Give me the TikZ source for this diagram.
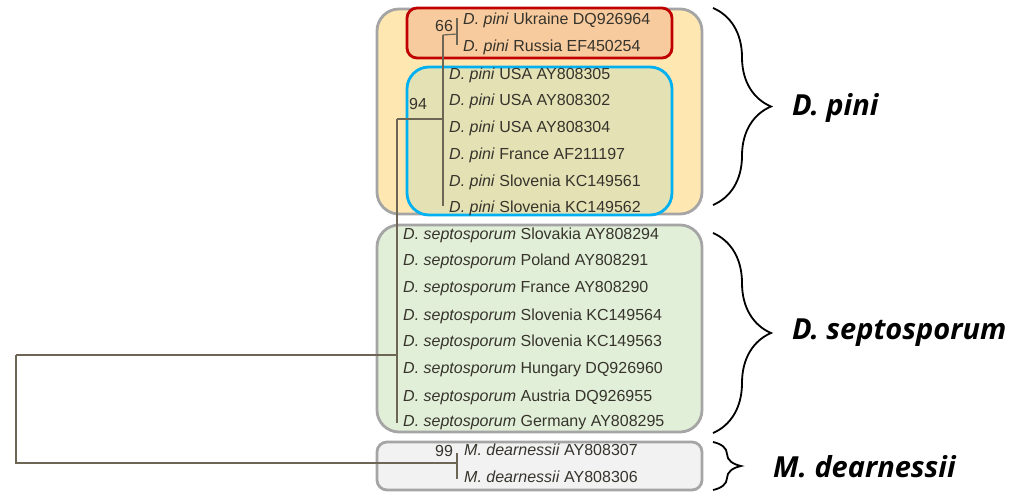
\documentclass[tikz,border=0pt]{standalone}
\usepackage{fontspec}
\setmainfont{Liberation Sans}
\newfontfamily\labfont{Open Sans}
\usetikzlibrary{decorations.pathreplacing}
\definecolor{yel}{HTML}{FFE7B2}
\definecolor{peach}{HTML}{F8CB9E}
\definecolor{olive}{HTML}{E4E2B4}
\definecolor{grn}{HTML}{E2EFD8}
\definecolor{lgr}{HTML}{F2F2F2}
\definecolor{bord}{HTML}{A5A5A5}
\definecolor{redb}{HTML}{C00000}
\definecolor{blueb}{HTML}{00B0F0}
\definecolor{treec}{HTML}{6E6654}
\definecolor{txtc}{HTML}{36342C}
\begin{document}
\begin{tikzpicture}[x=1pt,y=-1pt,
  grpbox/.style={draw=bord,line width=2.8pt,rounded corners=22pt},
  taxon/.style={anchor=west,inner sep=0pt,text=txtc,font=\fontsize{16}{19}\selectfont},
  branch/.style={draw=treec,line width=1.2pt},
  boot/.style={anchor=center,inner sep=0pt,text=txtc,font=\fontsize{16}{19}\selectfont},
  bracestyle/.style={draw=black,line width=1.8pt,decorate},
  cladelab/.style={anchor=west,inner sep=0pt,font=\labfont\bfseries\itshape\fontsize{29}{32}\selectfont}]
\useasboundingbox (0,0) rectangle (1013,491);
% group boxes
\draw[grpbox,fill=yel] (377,9) rectangle (702,214);
\draw[grpbox,fill=grn] (377,225) rectangle (702,432);
\draw[grpbox,fill=lgr,rounded corners=10pt] (377,442) rectangle (702,490);
\draw[draw=blueb,line width=2.8pt,rounded corners=22pt,fill=olive] (407,67) rectangle (672,215);
\draw[draw=redb,line width=2.8pt,rounded corners=10pt,fill=peach] (407,8) rectangle (672,58);
% taxa
\node[taxon] (t1) at (463,20) {\textit{D. pini} Ukraine DQ926964};
\node[taxon] (t2) at (463,47) {\textit{D. pini} Russia EF450254};
\node[taxon] (t3) at (449,75) {\textit{D. pini} USA AY808305};
\node[taxon] (t4) at (449,101) {\textit{D. pini} USA AY808302};
\node[taxon] (t5) at (449,128) {\textit{D. pini} USA AY808304};
\node[taxon] (t6) at (449,155) {\textit{D. pini} France AF211197};
\node[taxon] (t7) at (449,182) {\textit{D. pini} Slovenia KC149561};
\node[taxon] (t8) at (449,208) {\textit{D. pini} Slovenia KC149562};
\node[taxon] (s1) at (403,235) {\textit{D. septosporum} Slovakia AY808294};
\node[taxon] (s2) at (403,261) {\textit{D. septosporum} Poland AY808291};
\node[taxon] (s3) at (403,289) {\textit{D. septosporum} France AY808290};
\node[taxon] (s4) at (403,316) {\textit{D. septosporum} Slovenia KC149564};
\node[taxon] (s5) at (403,342) {\textit{D. septosporum} Slovenia KC149563};
\node[taxon] (s6) at (403,370) {\textit{D. septosporum} Hungary DQ926960};
\node[taxon] (s7) at (403,397) {\textit{D. septosporum} Austria DQ926955};
\node[taxon] (s8) at (403,423) {\textit{D. septosporum} Germany AY808295};
\node[taxon] (m1) at (464,450) {\textit{M. dearnessii} AY808307};
\node[taxon] (m2) at (464,477) {\textit{M. dearnessii} AY808306};
% internal nodes
\coordinate (nroot) at (16,355);
\coordinate (nds) at (397,355);
\coordinate (npini) at (443,119);
\coordinate (n66) at (457,34);
\coordinate (n99) at (457,463);
% tree
\draw[branch] (nroot) -- (nds);
\draw[branch] (nroot) -- (nroot |- n99) -- (n99);
\draw[branch] (npini -| nds) -- (s8.west -| nds);
\draw[branch] (npini -| nds) -- (npini);
\draw[branch] ([yshift=-1pt]n66 -| npini) -- ([yshift=2pt]t8.west -| npini);
\draw[branch] ([yshift=-1pt]n66 -| npini) -- (n66);
\draw[branch] ([yshift=2pt]t1.west -| n66) -- ([yshift=2pt]t2.west -| n66);
\draw[branch] ([yshift=-3pt]m1.west -| n99) -- ([yshift=-2pt]m2.west -| n99);
% bootstrap values
\node[boot] (b66) at (444,26) {66};
\node[boot] (b94) at (418,104) {94};
\node[boot] (b99) at (444,451) {99};
% braces
\coordinate (bp1) at (713,8);
\coordinate (bp2) at (713,205);
\coordinate (bs1) at (713,233);
\coordinate (bs2) at (713,433);
\coordinate (bm1) at (713,442);
\coordinate (bm2) at (713,490);
\draw[bracestyle,decoration={brace,amplitude=58pt}] (bp1) -- (bp2);
\draw[bracestyle,decoration={brace,amplitude=58pt}] (bs1) -- (bs2);
\draw[bracestyle,decoration={brace,amplitude=28pt}] (bm1) -- (bm2);
\node[cladelab] (lp) at (792,108) {D. pini};
\node[cladelab] (ls) at (792,333) {D. septosporum};
\node[cladelab] (lm) at (773,467) {M. dearnessii};
\end{tikzpicture}
\end{document}
